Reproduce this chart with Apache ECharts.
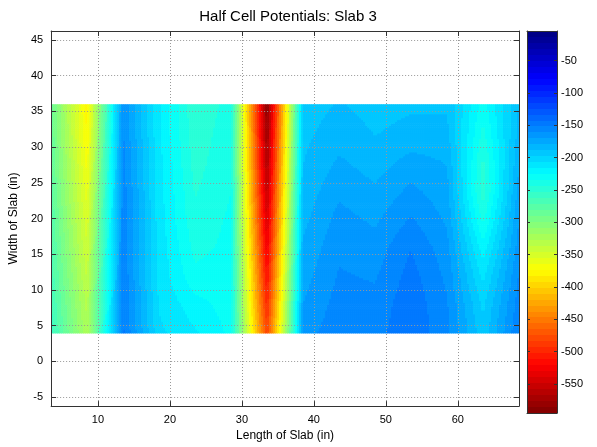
<!DOCTYPE html>
<html>
<head>
<meta charset="utf-8">
<script src="https://cdn.jsdelivr.net/npm/echarts@6/dist/echarts.min.js"></script>
<style>
html,body{margin:0;padding:0;background:#fff;}
#chart{width:597px;height:447px;}
</style>
</head>
<body>
<div id="chart"></div>
<script>
// grid positions (in)
var xPos = [3.5, 8.5, 13.5, 18.5, 23.5, 28.5, 33.5, 38.5, 43.5, 48.5, 53.5, 58.5, 63.5, 68.5];
var yPos = [4, 8, 12, 16, 20, 24, 28, 32, 36];

// half cell potentials, one row per yPos (bottom to top), one value per xPos
var row4  = [-258, -325, -150, -205, -215, -228, -482, -165, -155, -155, -145, -158, -195, -152];
var row8  = [-262, -330, -152, -208, -222, -230, -500, -170, -157, -158, -145, -160, -200, -156];
var row12 = [-266, -338, -153, -210, -232, -230, -515, -174, -160, -162, -148, -163, -210, -160];
var row16 = [-270, -345, -154, -210, -238, -232, -530, -178, -163, -166, -152, -167, -222, -165];
var row20 = [-273, -352, -155, -212, -242, -233, -545, -182, -167, -172, -160, -172, -238, -170];
var row24 = [-277, -360, -156, -212, -245, -235, -558, -186, -172, -178, -168, -176, -250, -175];
var row28 = [-280, -368, -158, -213, -248, -236, -570, -189, -178, -184, -176, -180, -246, -180];
var row32 = [-283, -375, -160, -215, -250, -238, -580, -191, -184, -189, -186, -186, -238, -185];
var row36 = [-285, -378, -162, -215, -252, -240, -590, -193, -188, -192, -190, -190, -230, -188];
var rows = [row4, row8, row12, row16, row20, row24, row28, row32, row36];

var cMin = -595, cMax = -4;
var nColors = 64;

function jet(t) {
    var c = function (v) { return Math.max(0, Math.min(1, v)); };
    var r = c(Math.min(4 * t - 1.5, -4 * t + 4.5));
    var g = c(Math.min(4 * t - 0.5, -4 * t + 3.5));
    var b = c(Math.min(4 * t + 0.5, -4 * t + 2.5));
    return 'rgb(' + Math.round(r * 255) + ',' + Math.round(g * 255) + ',' + Math.round(b * 255) + ')';
}
// low potential -> dark red, high -> dark blue
function colorOf(v) {
    var f = (v - cMin) / (cMax - cMin);
    var k = Math.floor((1 - f) * nColors);
    k = Math.max(0, Math.min(nColors - 1, k));
    return jet((k + 0.5) / nColors);
}

var barStops = [];
for (var k = 0; k < nColors; k++) {
    barStops.push({offset: k / nColors, color: jet((k + 0.5) / nColors)});
    barStops.push({offset: (k + 1) / nColors, color: jet((k + 0.5) / nColors)});
}

var cells = [];
for (var j = 0; j < yPos.length - 1; j++) {
    for (var i = 0; i < xPos.length - 1; i++) {
        cells.push([xPos[i], xPos[i + 1], yPos[j], yPos[j + 1],
            rows[j][i], rows[j][i + 1], rows[j + 1][i], rows[j + 1][i + 1]]);
    }
}

var NX = 18, NY = 15;
function renderCell(params, api) {
    var x0 = api.value(0), x1 = api.value(1), y0 = api.value(2), y1 = api.value(3);
    var v00 = api.value(4), v10 = api.value(5), v01 = api.value(6), v11 = api.value(7);
    var kids = [];
    for (var a = 0; a < NX; a++) {
        for (var b = 0; b < NY; b++) {
            var u = (a + 0.5) / NX, w = (b + 0.5) / NY;
            var v = v00 * (1 - u) * (1 - w) + v10 * u * (1 - w) + v01 * (1 - u) * w + v11 * u * w;
            var p0 = api.coord([x0 + (x1 - x0) * a / NX, y0 + (y1 - y0) * b / NY]);
            var p1 = api.coord([x0 + (x1 - x0) * (a + 1) / NX, y0 + (y1 - y0) * (b + 1) / NY]);
            kids.push({
                type: 'rect',
                shape: {
                    x: Math.min(p0[0], p1[0]), y: Math.min(p0[1], p1[1]),
                    width: Math.abs(p1[0] - p0[0]) + 0.6, height: Math.abs(p1[1] - p0[1]) + 0.6
                },
                style: {fill: colorOf(v)}
            });
        }
    }
    return {type: 'group', children: kids};
}

var font = 'Liberation Sans, Arial, sans-serif';
var axisLine = {onZero: false, lineStyle: {color: '#333', width: 1}};
var axisTick = {inside: true, length: 5, lineStyle: {color: '#333'}};
var axisLabel = {color: '#000', fontSize: 11, fontFamily: font, showMinLabel: false, showMaxLabel: false};
var splitLine = {show: true, lineStyle: {color: '#999', type: [1, 2], width: 1}};

var chart = echarts.init(document.getElementById('chart'));
var option = {
    animation: false,
    backgroundColor: '#fff',
    title: {
        text: 'Half Cell Potentials: Slab 3',
        left: 283, top: 4, textAlign: 'center',
        textStyle: {fontSize: 15, fontWeight: 'normal', color: '#000', fontFamily: font}
    },
    grid: [
        {left: 47, top: 31, width: 472, height: 382, show: false},
        {left: 527, top: 31, width: 30, height: 382, show: true,
            backgroundColor: new echarts.graphic.LinearGradient(0, 0, 0, 1, barStops),
            borderWidth: 0}
    ],
    xAxis: [
        {type: 'value', gridIndex: 0, min: 3.5, max: 68.5, minInterval: 10, maxInterval: 10, z: 5,
            name: 'Length of Slab (in)', nameLocation: 'middle', nameGap: 21,
            nameTextStyle: {fontSize: 12, color: '#000', fontFamily: font},
            axisLine: axisLine, axisTick: axisTick, axisLabel: axisLabel, splitLine: splitLine},
        {type: 'value', gridIndex: 0, position: 'top', min: 3.5, max: 68.5, minInterval: 10, maxInterval: 10, z: 5,
            axisLine: axisLine, axisTick: axisTick, axisLabel: {show: false}, splitLine: {show: false}},
        {type: 'value', gridIndex: 1, min: 0, max: 1,
            axisLine: axisLine, axisTick: {show: false}, axisLabel: {show: false}, splitLine: {show: false}},
        {type: 'value', gridIndex: 1, position: 'top', min: 0, max: 1,
            axisLine: axisLine, axisTick: {show: false}, axisLabel: {show: false}, splitLine: {show: false}}
    ],
    yAxis: [
        {type: 'value', gridIndex: 0, min: -6.25, max: 46.25, minInterval: 5, maxInterval: 5, z: 5,
            name: 'Width of Slab (in)', nameLocation: 'middle', nameGap: 30,
            nameTextStyle: {fontSize: 12, color: '#000', fontFamily: font},
            axisLine: axisLine, axisTick: axisTick, axisLabel: axisLabel, splitLine: splitLine},
        {type: 'value', gridIndex: 0, position: 'right', min: -6.25, max: 46.25, minInterval: 5, maxInterval: 5, z: 5,
            axisLine: axisLine, axisTick: axisTick, axisLabel: {show: false}, splitLine: {show: false}},
        {type: 'value', gridIndex: 1, position: 'right', min: cMin, max: cMax, minInterval: 50, maxInterval: 50, z: 5,
            axisLine: axisLine, axisTick: {inside: true, length: 3, lineStyle: {color: '#333'}},
            axisLabel: {color: '#000', fontSize: 11, fontFamily: font, margin: 4, showMinLabel: false, showMaxLabel: false},
            splitLine: {show: false}},
        {type: 'value', gridIndex: 1, position: 'left', min: cMin, max: cMax, minInterval: 50, maxInterval: 50, z: 5,
            axisLine: axisLine, axisTick: {inside: true, length: 3, lineStyle: {color: '#333'}},
            axisLabel: {show: false}, splitLine: {show: false}}
    ],
    series: [
        {
            type: 'custom',
            xAxisIndex: 0, yAxisIndex: 0,
            renderItem: renderCell,
            encode: {x: [0, 1], y: [2, 3]},
            data: cells,
            z: 1,
            silent: true
        }
    ]
};
chart.setOption(option);
</script>
</body>
</html>
